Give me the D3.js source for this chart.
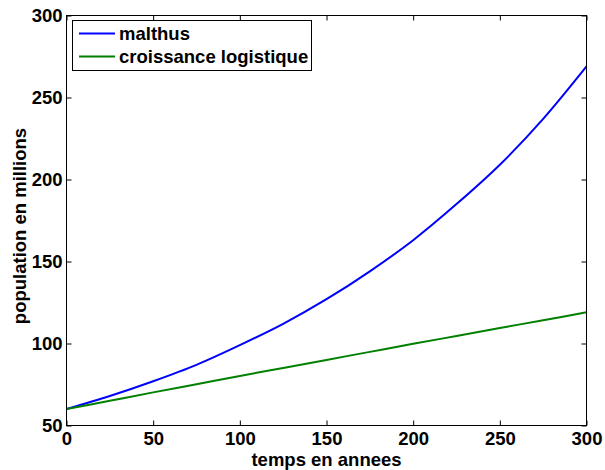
<!DOCTYPE html>
<html lang="fr">
<head>
<meta charset="utf-8">
<style>
  body { margin: 0; background: #fff; }
  text { font-family: "Liberation Sans", Arial, sans-serif; font-weight: bold; fill: #000; }
</style>
</head>
<body>
<script src="https://d3js.org/d3.v7.min.js"></script>
<script>
// values
var years = [0, 25, 50, 75, 100, 125, 150, 175, 200, 225, 250, 275, 300];
var malthus = [60, 68, 77, 87, 99, 112, 127, 144, 163, 185, 209, 237, 269];
var logistique = [60, 65.1, 70.2, 75.2, 80.2, 85.1, 90, 94.9, 99.8, 104.6, 109.4, 114.2, 119];
var xTicks = [0, 50, 100, 150, 200, 250, 300];
var yTicks = [50, 100, 150, 200, 250, 300];
var seriesNames = ["malthus", "croissance logistique"];
var seriesColors = ["#0000ff", "#008000"];

var width = 605, height = 470;
var plotL = 66.5, plotR = 586.5, plotT = 15.5, plotB = 425.5;
var fontSize = 18.5;

var svg = d3.select("body").append("svg")
  .attr("width", width)
  .attr("height", height);

var x = d3.scaleLinear().domain([0, 300]).range([plotL, plotR]);
var y = d3.scaleLinear().domain([50, 300]).range([plotB, plotT]);

// series lines
var line = d3.line()
  .x(function (d) { return x(d[0]); })
  .y(function (d) { return y(d[1]); })
  .curve(d3.curveMonotoneX);

[malthus, logistique].forEach(function (vals, i) {
  svg.append("path")
    .datum(d3.zip(years, vals))
    .attr("fill", "none")
    .attr("stroke", seriesColors[i])
    .attr("stroke-width", 2)
    .attr("d", line);
});

// axes, ticks pointing inwards, mirrored on top and right
var tickLen = 5;
svg.append("g").attr("transform", "translate(0," + plotB + ")")
  .call(d3.axisBottom(x).tickValues(xTicks).tickSizeInner(-tickLen).tickSizeOuter(0).tickPadding(6))
  .call(function (g) { g.select(".domain").remove(); });
svg.append("g").attr("transform", "translate(0," + plotT + ")")
  .call(d3.axisTop(x).tickValues(xTicks).tickSizeInner(-tickLen).tickSizeOuter(0).tickFormat(""))
  .call(function (g) { g.select(".domain").remove(); });
svg.append("g").attr("transform", "translate(" + plotL + ",0)")
  .call(d3.axisLeft(y).tickValues(yTicks).tickSizeInner(-tickLen).tickSizeOuter(0).tickPadding(4))
  .call(function (g) { g.select(".domain").remove(); });
svg.append("g").attr("transform", "translate(" + plotR + ",0)")
  .call(d3.axisRight(y).tickValues(yTicks).tickSizeInner(-tickLen).tickSizeOuter(0).tickFormat(""))
  .call(function (g) { g.select(".domain").remove(); });

svg.selectAll(".tick line").attr("stroke", "#000");
svg.selectAll(".tick text")
  .attr("font-family", "Liberation Sans, Arial, sans-serif")
  .attr("font-weight", "bold")
  .attr("font-size", fontSize)
  .attr("fill", "#000");

// frame
svg.append("rect")
  .attr("x", plotL).attr("y", plotT)
  .attr("width", plotR - plotL).attr("height", plotB - plotT)
  .attr("fill", "none").attr("stroke", "#000").attr("stroke-width", 1);

// axis titles
svg.append("text")
  .attr("x", (plotL + plotR) / 2).attr("y", 466)
  .attr("text-anchor", "middle").attr("font-size", fontSize)
  .text("temps en annees");
svg.append("text")
  .attr("transform", "translate(26,226) rotate(-90)")
  .attr("text-anchor", "middle").attr("font-size", fontSize)
  .text("population en millions");

// legend
var lg = svg.append("g");
lg.append("rect")
  .attr("x", 72.5).attr("y", 20.5).attr("width", 239).attr("height", 50)
  .attr("fill", "#fff").attr("stroke", "#000").attr("stroke-width", 1);
seriesNames.forEach(function (name, i) {
  var ly = 33.5 + i * 23;
  lg.append("line")
    .attr("x1", 79).attr("x2", 115).attr("y1", ly).attr("y2", ly)
    .attr("stroke", seriesColors[i]).attr("stroke-width", 2);
  lg.append("text")
    .attr("x", 119).attr("y", ly + 6.5)
    .attr("font-size", fontSize)
    .text(name);
});
</script>
</body>
</html>
